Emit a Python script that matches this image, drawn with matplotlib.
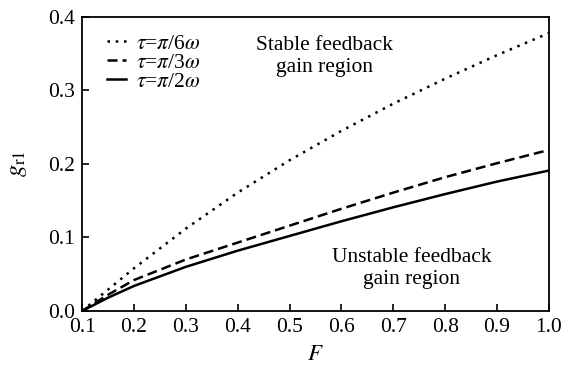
import matplotlib
matplotlib.use("Agg")
import matplotlib.pyplot as plt

plt.rcParams['font.family'] = ['Liberation Serif', 'DejaVu Serif']
plt.rcParams['mathtext.fontset'] = 'stix'

# feedback gain boundary g_r1 versus F for three delays
F = [0.1, 0.15, 0.2, 0.3, 0.4, 0.5, 0.6, 0.7, 0.8, 0.9, 1.0]
g_pi6 = [0.0, 0.029, 0.058, 0.112, 0.161, 0.205, 0.245, 0.282, 0.316, 0.348, 0.378]
g_pi3 = [0.0, 0.022, 0.042, 0.070, 0.093, 0.116, 0.139, 0.161, 0.182, 0.201, 0.219]
g_pi2 = [0.0, 0.018, 0.034, 0.060, 0.082, 0.102, 0.122, 0.141, 0.159, 0.176, 0.191]

xticks = [0.1, 0.2, 0.3, 0.4, 0.5, 0.6, 0.7, 0.8, 0.9, 1.0]
yticks = [0.0, 0.1, 0.2, 0.3, 0.4]

fs = 15.5
fig = plt.figure(figsize=(5.7, 3.76), dpi=100)
ax = fig.add_axes([0.144, 0.173, 0.819, 0.782])

ax.plot(F, g_pi6, color='black', linestyle=(0, (1, 2.3)), linewidth=1.8, label=r'$\tau$=$\pi$/6$\omega$')
ax.plot(F, g_pi3, color='black', linestyle=(0, (4, 2)), linewidth=1.8, label=r'$\tau$=$\pi$/3$\omega$')
ax.plot(F, g_pi2, color='black', linestyle='-', linewidth=1.8, label=r'$\tau$=$\pi$/2$\omega$')

ax.set_xlim(0.1, 1.0)
ax.set_ylim(0.0, 0.4)
ax.set_xticks(xticks)
ax.set_xticklabels([f"{t:.1f}" for t in xticks])
ax.set_yticks(yticks)
ax.set_yticklabels([f"{t:.1f}" for t in yticks])
ax.tick_params(direction='in', length=5, width=1.2, labelsize=fs, pad=5)
for s in ax.spines.values():
    s.set_linewidth(1.3)

ax.set_xlabel('$F$', fontsize=fs + 1, labelpad=5)
ax.set_ylabel(r'$g_{\mathrm{r1}}$', fontsize=fs + 2, labelpad=14)

ax.legend(loc='upper left', frameon=False, fontsize=fs, handlelength=0.9,
          handletextpad=0.45, labelspacing=-0.05, borderaxespad=0.0,
          bbox_to_anchor=(0.035, 0.972))

ax.text(0.568, 0.374, 'Stable feedback\ngain region', fontsize=fs,
        ha='center', va='top', linespacing=1.2)
ax.text(0.736, 0.085, 'Unstable feedback\ngain region', fontsize=fs,
        ha='center', va='top', linespacing=1.2)

fig.savefig('out.png', dpi=100)
